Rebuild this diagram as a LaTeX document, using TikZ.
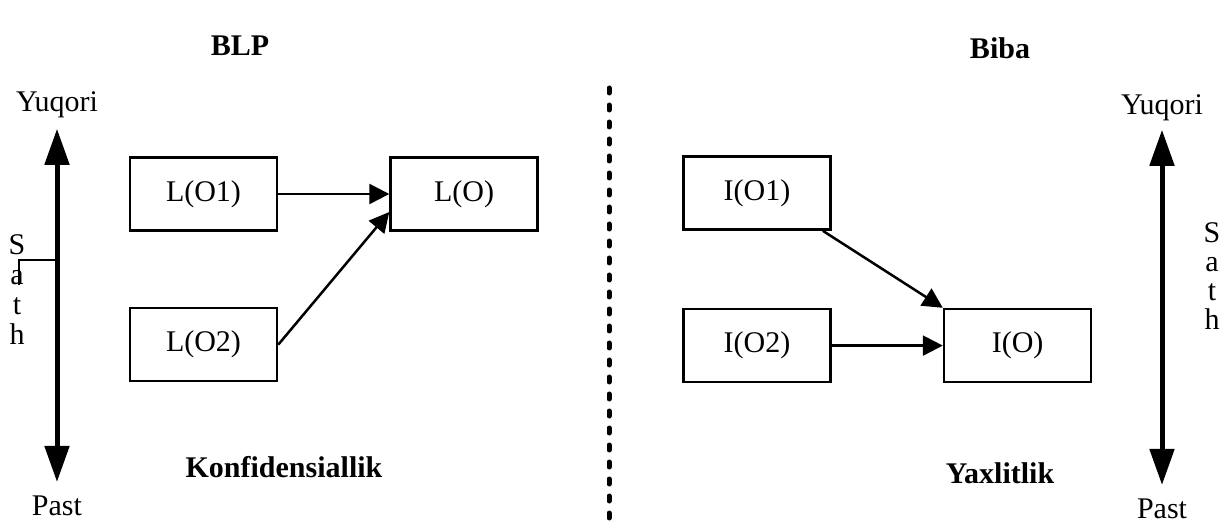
\documentclass[tikz,border=0pt]{standalone}
\usepackage{fontspec}
\setmainfont{Liberation Serif}
\usetikzlibrary{arrows.meta, positioning, calc}

\begin{document}
\begin{tikzpicture}[x=0.5pt, y=-0.5pt,
    % ── Node styles ──────────────────────────────────────────────────────
    base/.style={
        font=\fontsize{15}{14.5}\selectfont, inner sep=0pt
    },
    boxnode/.style={
        base, draw, line width=1.3pt,
        minimum width=73.5pt, minimum height=36.5pt
    },
    titlenode/.style={
        base, font=\fontsize{15}{18}\selectfont\bfseries
    },
    lbl/.style={base, anchor=base},
    stack/.style={base, align=center, anchor=north},
    % ── Arrow styles ─────────────────────────────────────────────────────
    arr/.style={
        -{Triangle[length=10pt, width=10pt]}, line width=1.25pt
    },
    axisarr/.style={
        {Triangle[length=18pt, width=12pt]}-{Triangle[length=18pt, width=12pt]},
        line width=2.5pt
    },
    sepline/.style={
        line width=2.5pt, line cap=round, dash pattern=on 2.5pt off 6pt
    },
    bracket/.style={line width=0.6pt}
]
\useasboundingbox (0,0) rectangle (1223,524);

% ═══════════════════════════════════════════════════════════════════════
% Titles
% ═══════════════════════════════════════════════════════════════════════
\node[titlenode] (blp)  at (240,46)  {BLP};
\node[titlenode] (biba) at (1000,48) {Biba};
\node[titlenode] (konf) at (284,467) {Konfidensiallik};
\node[titlenode] (yaxl) at (1000,473) {Yaxlitlik};

% ═══════════════════════════════════════════════════════════════════════
% Left side — BLP
% ═══════════════════════════════════════════════════════════════════════
\node[lbl] (yuqL)  at (57,112) {Yuqori};
\node[lbl] (pastL) at (57,515) {Past};
\draw[axisarr, shorten <=5pt, shorten >=6.5pt] (yuqL.south) -- (pastL.north);

\node[stack, font=\fontsize{15}{15}\selectfont] (sathL) at (17,234) {S\\a\\t\\h};
\draw[bracket] (19,285) |- (57,260);

\node[boxnode] (LO1) at (203.5,194) {L(O1)};
\node[boxnode, right=55.5pt of LO1] (LO) {L(O)};
\node[boxnode, below=37.5pt of LO1] (LO2) {L(O2)};

\draw[arr] (LO1) -- (LO);
\draw[arr] (LO2.east) -- ($(LO.west)+(0,18)$);

% ═══════════════════════════════════════════════════════════════════════
% Separator
% ═══════════════════════════════════════════════════════════════════════
\draw[sepline] (609,88) -- (609,530);

% ═══════════════════════════════════════════════════════════════════════
% Right side — Biba
% ═══════════════════════════════════════════════════════════════════════
\node[boxnode] (IO1) at (757,193) {I(O1)};
\node[boxnode, below=38.5pt of IO1] (IO2) {I(O2)};
\node[boxnode, right=55.5pt of IO2] (IO) {I(O)};

\draw[arr] ($(IO1.south east)+(-9,0)$) -- (IO.north west);
\draw[arr] (IO2) -- (IO);

\node[lbl] (yuqR)  at (1162,115) {Yuqori};
\node[lbl] (pastR) at (1162,518) {Past};
\draw[axisarr, shorten <=4pt, shorten >=6.5pt] (yuqR.south) -- (pastR.north);

\node[stack] (sathR) at (1212,222) {S\\a\\t\\h};

\end{tikzpicture}
\end{document}
